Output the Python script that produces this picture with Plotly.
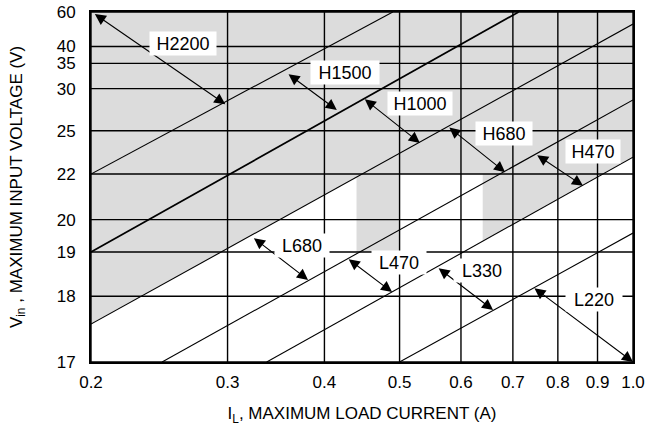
import math
import plotly.graph_objects as go

# ---------------- data ----------------
V_OUT = 15.0  # output voltage that defines the vertical scale

current_ticks = [0.2, 0.3, 0.4, 0.5, 0.6, 0.7, 0.8, 0.9, 1.0]
current_tick_labels = ["0.2", "0.3", "0.4", "0.5", "0.6", "0.7", "0.8", "0.9", "1.0"]
voltage_ticks = [17, 18, 19, 20, 22, 25, 30, 35, 40, 60]
voltage_tick_labels = ["17", "18", "19", "20", "22", "25", "30", "35", "40", "60"]

# inductor boundary lines (load current A, input voltage V)
boundary_i_start = [0.2, 0.2, 0.2, 0.247, 0.337, 0.5]
boundary_v_start = [22.0, 19.0, 17.52, 17.0, 17.0, 17.0]
boundary_i_end = [0.49, 0.712, 1.0, 1.0, 1.0, 1.0]
boundary_v_end = [60.0, 60.0, 50.6, 28.35, 23.0, 19.55]

region_names = ["H2200", "H1500", "H1000", "H680", "H470", "L680", "L470", "L330", "L220"]

# shaded (H type) zone limits
shade_split_v = 22.0
shade_band_i = [0.44, 0.5]
shade_band_v = [19.0, 22.0]
shade_right_i = 0.64

# ---------------- annotation placement ----------------
label_i = [0.263, 0.425, 0.531, 0.681, 0.887, 0.374, 0.499, 0.638, 0.890]
label_v = [40.9, 33.0, 27.95, 24.8, 23.4, 19.19, 18.74, 18.53, 17.93]
label_w = [64, 66, 62, 54, 52, 52, 52, 54, 54]
arrow_i_from = [0.2014, 0.358, 0.449, 0.577, 0.749, 0.323, 0.428, 0.559, 0.743]
arrow_v_from = [59.0, 32.8, 28.6, 25.4, 23.2, 19.43, 18.84, 18.62, 18.18]
arrow_i_to = [0.298, 0.415, 0.531, 0.684, 0.862, 0.381, 0.489, 0.660, 1.0]
arrow_v_to = [27.8, 27.1, 24.0, 22.1, 21.4, 18.33, 18.08, 17.75, 17.0]

# ---------------- styles ----------------
FONT = "Liberation Sans, Arial, Helvetica, sans-serif"
SHADE = "#dcdcdc"
line_width = [1.1, 1.7, 1.1, 1.1, 1.1, 1.1]


def to_u(v):
    return 1.0 - V_OUT / v


def from_u(u):
    return V_OUT / (1.0 - u)


def line_v_at_i(k, i):
    li0, li1 = math.log10(boundary_i_start[k]), math.log10(boundary_i_end[k])
    lu0, lu1 = math.log10(to_u(boundary_v_start[k])), math.log10(to_u(boundary_v_end[k]))
    t = (math.log10(i) - li0) / (li1 - li0)
    return from_u(10 ** (lu0 + t * (lu1 - lu0)))


def line_i_at_v(k, v):
    li0, li1 = math.log10(boundary_i_start[k]), math.log10(boundary_i_end[k])
    lu0, lu1 = math.log10(to_u(boundary_v_start[k])), math.log10(to_u(boundary_v_end[k]))
    t = (math.log10(to_u(v)) - lu0) / (lu1 - lu0)
    return 10 ** (li0 + t * (li1 - li0))


i_min, i_max = current_ticks[0], current_ticks[-1]
v_min, v_max = voltage_ticks[0], voltage_ticks[-1]
C, E = 2, 4

polys = []
# upper shaded zone: above split voltage and above line E
ie = line_i_at_v(E, shade_split_v)
polys.append([(i_min, shade_split_v), (ie, shade_split_v), (i_max, line_v_at_i(E, i_max)),
              (i_max, v_max), (i_min, v_max)])
# below split, above line C
polys.append([(i_min, line_v_at_i(C, i_min)), (line_i_at_v(C, shade_split_v), shade_split_v),
              (i_min, shade_split_v)])
# band
polys.append([(shade_band_i[0], shade_band_v[0]), (shade_band_i[1], shade_band_v[0]),
              (shade_band_i[1], shade_band_v[1]), (shade_band_i[0], shade_band_v[1])])
# right zone below split above line E
polys.append([(shade_right_i, shade_split_v), (shade_right_i, line_v_at_i(E, shade_right_i)),
              (ie, shade_split_v)])

fig = go.Figure()
for p in polys:
    fig.add_trace(go.Scatter(
        x=[q[0] for q in p] + [p[0][0]],
        y=[to_u(q[1]) for q in p] + [to_u(p[0][1])],
        mode="lines", fill="toself", fillcolor=SHADE,
        line=dict(width=0, color=SHADE), hoverinfo="skip", showlegend=False))

# grid
gx, gy = [], []
for t in current_ticks:
    gx += [t, t, None]
    gy += [to_u(v_min), to_u(v_max), None]
for v in voltage_ticks:
    gx += [i_min, i_max, None]
    gy += [to_u(v), to_u(v), None]
fig.add_trace(go.Scatter(x=gx, y=gy, mode="lines", line=dict(color="black", width=1.4),
                         hoverinfo="skip", showlegend=False))

# boundary lines
for k in range(len(boundary_i_start)):
    fig.add_trace(go.Scatter(
        x=[boundary_i_start[k], boundary_i_end[k]],
        y=[to_u(boundary_v_start[k]), to_u(boundary_v_end[k])],
        mode="lines", line=dict(color="black", width=line_width[k]),
        hoverinfo="skip", showlegend=False))

ann = []
for k, name in enumerate(region_names):
    ann.append(dict(
        x=math.log10(arrow_i_to[k]), y=math.log10(to_u(arrow_v_to[k])),
        ax=math.log10(arrow_i_from[k]), ay=math.log10(to_u(arrow_v_from[k])),
        xref="x", yref="y", axref="x", ayref="y", text="", showarrow=True,
        arrowhead=2, startarrowhead=2, arrowside="end+start",
        arrowsize=2.0, startarrowsize=2.0, arrowwidth=1.1, arrowcolor="black",
        standoff=0, startstandoff=0))
for k, name in enumerate(region_names):
    ann.append(dict(
        x=math.log10(label_i[k]), y=math.log10(to_u(label_v[k])), xref="x", yref="y",
        text=name, showarrow=False, bgcolor="white", width=label_w[k], height=21,
        borderpad=1, font=dict(family=FONT, size=18, color="black")))

fig.update_layout(
    width=652, height=431,
    margin=dict(l=91, r=19, t=12, b=69),
    paper_bgcolor="white", plot_bgcolor="white",
    font=dict(family=FONT, size=17, color="black"),
    annotations=ann, showlegend=False,
)
fig.update_xaxes(
    type="log", range=[math.log10(i_min), math.log10(i_max)],
    tickvals=current_ticks, ticktext=current_tick_labels, automargin=False,
    showgrid=False, zeroline=False, ticks="", ticklabelstandoff=4,
    showline=True, mirror=True, linecolor="black", linewidth=2,
    title=dict(text="I<sub>L</sub>, MAXIMUM LOAD CURRENT (A)", standoff=16,
               font=dict(family=FONT, size=17)),
    tickfont=dict(family=FONT, size=17),
)
fig.update_yaxes(
    type="log", range=[math.log10(to_u(v_min)), math.log10(to_u(v_max))],
    tickvals=[to_u(v) for v in voltage_ticks], ticktext=voltage_tick_labels,
    automargin=False,
    showgrid=False, zeroline=False, ticks="", ticklabelstandoff=10,
    showline=True, mirror=True, linecolor="black", linewidth=2,
    title=dict(text="V<sub>in</sub> , MAXIMUM INPUT VOLTAGE (V)", standoff=30,
               font=dict(family=FONT, size=17)),
    tickfont=dict(family=FONT, size=17),
)

fig.write_html("out.html", config={"displayModeBar": False},
               post_script="document.body.style.margin='0px';")
